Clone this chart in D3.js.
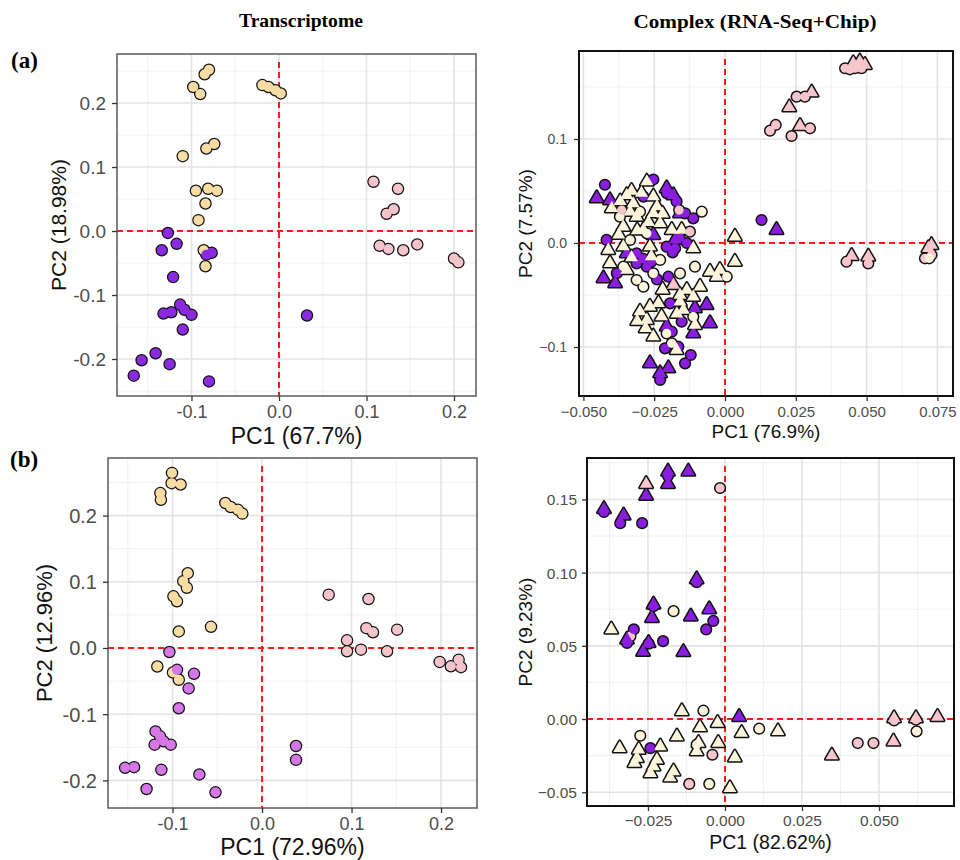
<!DOCTYPE html>
<html>
<head>
<meta charset="utf-8">
<script src="https://cdn.jsdelivr.net/npm/d3@7"></script>
<style>
  body { margin: 0; background: #fff; }
  svg text { font-family: "Liberation Sans", Arial, sans-serif; }
  .serif { font-family: "Liberation Serif", "Times New Roman", serif; font-weight: bold; }
</style>
</head>
<body>
<svg id="fig" width="960" height="860"></svg>
<script>
// ---- data ----
// (a) Transcriptome
var aL_yellow = [[-0.080,0.252],[-0.085,0.245],[-0.098,0.225],[-0.090,0.214],[-0.019,0.228],[-0.012,0.225],
  [-0.004,0.220],[0.002,0.215],[-0.110,0.117],[-0.083,0.129],[-0.074,0.136],[-0.095,0.063],[-0.081,0.066],
  [-0.071,0.063],[-0.084,0.043],[-0.092,0.017],[-0.086,-0.030],[-0.084,-0.055]];
var aL_pink = [[0.108,0.077],[0.136,0.066],[0.123,0.027],[0.131,0.034],[0.115,-0.023],[0.125,-0.028],
  [0.142,-0.030],[0.158,-0.021],[0.200,-0.043],[0.205,-0.049]];
var aL_purple = [[-0.127,-0.003],[-0.117,-0.020],[-0.134,-0.030],[-0.083,-0.037],[-0.077,-0.034],[-0.121,-0.072],
  [-0.132,-0.129],[-0.123,-0.127],[-0.113,-0.115],[-0.108,-0.123],[-0.100,-0.131],[-0.110,-0.154],[0.032,-0.132],
  [-0.141,-0.191],[-0.157,-0.202],[-0.125,-0.208],[-0.166,-0.226],[-0.080,-0.235]];

// (a) Complex
var aR_purpleCircle = [[-0.0424,0.056],[-0.0253,0.061],[-0.0206,0.048],[-0.0171,0.040],[-0.0141,0.0285],
  [-0.0112,0.0237],[-0.0382,-0.029],[-0.0312,-0.0196],[-0.0276,-0.0228],[-0.0206,-0.0035],[-0.0176,-0.005],
  [-0.020,-0.0324],[0.0129,0.0221],[-0.0194,-0.058],[-0.0153,-0.0756],[-0.0188,-0.0853],[-0.0212,-0.1013],
  [-0.0165,-0.0997],[-0.0121,-0.1077],[-0.0141,-0.1157],[-0.0229,-0.1317],[-0.0288,0.0446],[-0.0312,-0.010],
  [-0.0418,0.003],[-0.029,-0.015],[-0.026,-0.018],[-0.0185,-0.009],[-0.0135,0.0],[-0.024,-0.035],[-0.016,0.005]];
var aR_purpleTriangle = [[-0.0453,0.043],[-0.0406,0.041],[-0.0206,0.0526],[-0.0182,0.046],[-0.0159,0.0285],
  [-0.0429,-0.034],[-0.0388,-0.0388],[-0.0106,-0.0628],[-0.0065,-0.0596],[-0.0053,-0.0772],[-0.0112,-0.0869],
  [-0.0265,-0.1157],[-0.020,-0.1205],[-0.0229,-0.1253],[0.0182,0.0125],[-0.0206,-0.0804],[-0.0347,-0.010],
  [-0.0253,0.0077],[-0.0176,0.003]];
var aR_creamTriangle = [[-0.0347,0.046],[-0.0276,0.059],[-0.040,0.0333],[-0.0324,0.038],[-0.0253,0.0446],
  [-0.0312,0.0253],[-0.0253,0.0285],[-0.0359,0.0157],[-0.0288,0.0125],[-0.0229,0.0189],[-0.0188,0.0125],
  [-0.0153,0.0125],[-0.0412,-0.0067],[-0.0359,-0.0035],[-0.0265,-0.0035],[-0.0406,-0.0196],[-0.0347,-0.026],
  [-0.0112,-0.0051],[0.0035,0.0061],[0.0035,-0.018],[-0.0018,-0.026],[-0.0053,-0.0276],[-0.0029,-0.0324],
  [-0.0135,-0.0452],[-0.0159,-0.050],[-0.0112,-0.0516],[-0.0088,-0.042],[-0.030,-0.066],[-0.0265,-0.0612],
  [-0.0235,-0.058],[-0.0276,-0.074],[-0.0253,-0.090],[-0.0171,-0.1029],[-0.0106,-0.0788],[-0.0159,-0.0564],
  [-0.0224,-0.0708],[-0.0147,-0.0644],[-0.033,0.050],[-0.0295,0.048],[-0.031,0.012],[-0.024,0.035],
  [-0.0375,0.008],[-0.027,0.020],[-0.022,0.028],[-0.0335,0.030],[-0.037,0.040],[-0.026,-0.013],[-0.033,-0.014],
  [-0.022,-0.045],[-0.017,-0.068],[-0.031,-0.075],[-0.028,-0.082]];
var aR_creamCircle = [[-0.030,0.0301],[-0.0371,0.0253],[-0.0276,0.0093],[-0.0335,0.0029],[-0.0229,-0.0163],
  [-0.0359,-0.0228],[-0.0312,-0.0356],[-0.0288,-0.042],[-0.0253,-0.0292],[-0.0082,0.0301],[-0.0106,-0.0228],
  [-0.0159,-0.0292],[-0.0206,-0.0869],[-0.0188,-0.0965],[-0.0112,-0.0708],[0.0006,-0.0324]];
var aR_pinkCircle = [[-0.0162,0.0317],[-0.0124,0.0109],[-0.0365,0.0317],[0.0424,0.168],[0.0441,0.167],
  [0.0459,0.168],[0.0482,0.168],[0.0253,0.1407],[0.0282,0.1407],[0.0159,0.108],[0.0179,0.1135],[0.0235,0.1029],
  [0.030,0.1103],[0.0429,-0.018],[0.0506,-0.0196],[0.0706,-0.0147],[0.0729,-0.0115]];
var aR_pinkTriangle = [[0.0453,0.1728],[0.0476,0.1744],[0.0494,0.1712],[0.0306,0.1446],[0.0227,0.1304],
  [0.0265,0.1125],[0.0447,-0.0125],[0.0506,-0.0131],[0.0718,-0.0051],[0.0729,-0.002],[-0.0182,-0.0404]];
var aR_creamInPink = [[0.0721,-0.0147]];

// (b) Transcriptome
var bL_yellow = [[-0.1006,0.2645],[-0.101,0.249],[-0.091,0.247],[-0.1136,0.234],[-0.113,0.224],[-0.041,0.219],
  [-0.035,0.213],[-0.027,0.209],[-0.022,0.203],[-0.083,0.113],[-0.088,0.101],[-0.084,0.091],[-0.099,0.078],
  [-0.095,0.0705],[-0.093,0.025],[-0.057,0.032],[-0.117,-0.028],[-0.0995,-0.037],[-0.093,-0.048]];
var bL_pink = [[0.0745,0.0806],[0.119,0.074],[0.095,0.0116],[0.095,-0.005],[0.1106,-0.0025],[0.1166,0.030],
  [0.124,0.0237],[0.1397,-0.005],[0.151,0.0277],[0.1985,-0.021],[0.211,-0.0277],[0.2197,-0.0176],[0.2223,-0.029]];
var bL_orchid = [[-0.1035,-0.006],[-0.095,-0.033],[-0.076,-0.039],[-0.082,-0.061],[-0.093,-0.091],[-0.119,-0.126],
  [-0.114,-0.1335],[-0.120,-0.146],[-0.102,-0.146],[-0.110,-0.141],[-0.153,-0.181],[-0.143,-0.180],
  [-0.1125,-0.184],[-0.070,-0.191],[-0.129,-0.213],[-0.052,-0.218],[0.038,-0.148],[0.038,-0.169]];

// (b) Complex
var bR_purpleCircle = [[-0.0393,0.1415],[-0.0185,0.166],[-0.034,0.1338],[-0.0269,0.1338],[-0.0232,0.077],
  [-0.0296,0.0612],[-0.0201,0.0532],[-0.0061,0.0612],[-0.0038,0.067],[-0.0092,0.0935],[-0.0318,0.052],
  [-0.0242,-0.0199],[-0.0248,0.0515]];
var bR_purpleTriangle = [[-0.0393,0.1434],[-0.0329,0.139],[-0.0185,0.169],[-0.0185,0.1605],[-0.0119,0.169],
  [-0.0256,0.1525],[-0.0232,0.0783],[-0.0237,0.069],[-0.0248,0.052],[-0.0266,0.046],[-0.0111,0.070],
  [-0.0135,0.0457],[-0.0051,0.075],[-0.0092,0.0954],[-0.0318,0.0543],[0.0046,0.0014]];
var bR_creamCircle = [[-0.0167,0.0737],[-0.007,0.0057],[0.0111,-0.0066],[0.0622,-0.0084],[-0.0275,-0.0114],
  [-0.0051,-0.0443],[-0.0092,-0.0175]];
var bR_creamTriangle = [[-0.0369,0.0612],[-0.014,0.0053],[-0.0081,-0.0057],[-0.0024,-0.0027],[0.0054,-0.0096],
  [0.0172,-0.0084],[-0.0156,-0.0119],[-0.0086,-0.0164],[-0.0092,-0.022],[-0.0022,-0.0164],[0.0032,-0.0263],
  [-0.0342,-0.0199],[-0.028,-0.021],[-0.0286,-0.0267],[-0.0294,-0.030],[-0.021,-0.0187],[-0.0221,-0.0279],
  [-0.0232,-0.0324],[-0.0242,-0.037],[-0.0167,-0.0358],[-0.0178,-0.040],[0.0016,-0.0473]];
var bR_pinkCircle = [[-0.0016,0.1578],[-0.0307,0.0566],[0.0431,-0.0164],[0.0482,-0.0164],[0.0549,-0.001],
  [0.062,-0.0005],[-0.0041,-0.0244],[-0.0116,-0.0443]];
var bR_pinkTriangle = [[-0.0256,0.1605],[0.0347,-0.025],[0.0547,-0.0153],[0.0549,0.0005],[0.062,0.0005],
  [0.069,0.0014]];

// tick values
var aL_xTicks = [-0.1, 0, 0.1, 0.2], aL_yTicks = [-0.2, -0.1, 0, 0.1, 0.2];
var aR_xTicks = [-0.05, -0.025, 0, 0.025, 0.05, 0.075], aR_yTicks = [-0.1, 0, 0.1];
var bL_xTicks = [-0.1, 0, 0.1, 0.2], bL_yTicks = [-0.2, -0.1, 0, 0.1, 0.2];
var bR_xTicks = [-0.025, 0, 0.025, 0.05], bR_yTicks = [-0.05, 0, 0.05, 0.1, 0.15];

var C = {
  yellow: "#f9dba4", pink: "#f4c3cb", purple: "#8a2be2",
  orchid: "#d677e8", vio: "#8a1de0", rose: "#f8c5cd", cream: "#fcf5dc"
};

var svg = d3.select("#fig");

function hy(f) { return function(d) { return d3.format(f)(d).replace("\u2212", "-"); }; }

// minor grid at midpoints between major ticks, plus one beyond each side
function minors(t) {
  var step = t[1] - t[0], out = [];
  out.push(t[0] - step / 2);
  for (var i = 0; i < t.length; i++) out.push(t[i] + step / 2);
  return out;
}

function drawPanel(o) {
  var x = d3.scaleLinear().domain(o.xd).range([o.x0, o.x1]);
  var y = d3.scaleLinear().domain(o.yd).range([o.y1, o.y0]);
  var g = svg.append("g");
  var clip = "clip" + o.id;
  g.append("clipPath").attr("id", clip).append("rect")
    .attr("x", o.x0).attr("y", o.y0).attr("width", o.x1 - o.x0).attr("height", o.y1 - o.y0);

  var grid = g.append("g").attr("clip-path", "url(#" + clip + ")");
  minors(o.xt).forEach(function(v) {
    grid.append("line").attr("x1", x(v)).attr("x2", x(v)).attr("y1", o.y0).attr("y2", o.y1)
      .attr("stroke", "#f0f0f0").attr("stroke-width", 1);
  });
  minors(o.yt).forEach(function(v) {
    grid.append("line").attr("y1", y(v)).attr("y2", y(v)).attr("x1", o.x0).attr("x2", o.x1)
      .attr("stroke", "#f0f0f0").attr("stroke-width", 1);
  });
  o.xt.forEach(function(v) {
    grid.append("line").attr("x1", x(v)).attr("x2", x(v)).attr("y1", o.y0).attr("y2", o.y1)
      .attr("stroke", "#e3e3e3").attr("stroke-width", 1.6);
  });
  o.yt.forEach(function(v) {
    grid.append("line").attr("y1", y(v)).attr("y2", y(v)).attr("x1", o.x0).attr("x2", o.x1)
      .attr("stroke", "#e3e3e3").attr("stroke-width", 1.6);
  });

  // reference lines at zero
  grid.append("line").attr("x1", x(0)).attr("x2", x(0)).attr("y1", o.y0 + 8).attr("y2", o.y1)
    .attr("stroke", "#ff1a1a").attr("stroke-width", 2).attr("stroke-dasharray", "6,4");
  grid.append("line").attr("y1", y(0)).attr("y2", y(0)).attr("x1", o.x0).attr("x2", o.x1)
    .attr("stroke", "#ff1a1a").attr("stroke-width", 2).attr("stroke-dasharray", "6,4");

  // points: black outline layer first, then fills, so touching points merge
  var pts = g.append("g").attr("clip-path", "url(#" + clip + ")");
  function sym(s) {
    return d3.symbol().type(s.shape === "tri" ? d3.symbolTriangle : d3.symbolCircle)
      .size(s.shape === "tri" ? o.triSize : o.circSize)();
  }
  o.series.forEach(function(s) {
    pts.selectAll(null).data(s.data).enter().append("path")
      .attr("d", sym(s))
      .attr("transform", function(d) { return "translate(" + x(d[0]) + "," + y(d[1]) + ")"; })
      .attr("fill", "#111").attr("stroke", "#111").attr("stroke-width", o.sw)
      .attr("stroke-linejoin", "round");
  });
  o.series.forEach(function(s) {
    pts.selectAll(null).data(s.data).enter().append("path")
      .attr("d", sym(s))
      .attr("transform", function(d) { return "translate(" + x(d[0]) + "," + y(d[1]) + ")"; })
      .attr("fill", s.color);
  });

  g.append("rect").attr("x", o.x0).attr("y", o.y0).attr("width", o.x1 - o.x0).attr("height", o.y1 - o.y0)
    .attr("fill", "none").attr("stroke", o.border).attr("stroke-width", o.bw);

  // axes
  var xa = g.append("g").attr("transform", "translate(0," + o.y1 + ")")
    .call(d3.axisBottom(x).tickValues(o.xt).tickFormat(o.xf).tickSize(5));
  var ya = g.append("g").attr("transform", "translate(" + o.x0 + ",0)")
    .call(d3.axisLeft(y).tickValues(o.yt).tickFormat(o.yf).tickSize(5));
  [xa, ya].forEach(function(a) {
    a.select(".domain").remove();
    a.selectAll("line").attr("stroke", "#333").attr("stroke-width", 1.3);
    a.selectAll("text").attr("fill", "#4d4d4d").style("font-family", "'Liberation Sans', Arial, sans-serif");
  });
  xa.selectAll("text").attr("font-size", o.xfs).attr("dy", null).attr("y", o.xtb);
  ya.selectAll("text").attr("font-size", o.yfs).attr("x", -o.ytr).attr("dy", "0.35em");

  g.append("text").attr("x", (o.x0 + o.x1) / 2).attr("y", o.xlb).attr("text-anchor", "middle")
    .attr("font-size", o.xls).attr("fill", "#111").text(o.xl);
  g.append("text").attr("transform", "translate(" + o.ylb + "," + (o.y0 + o.y1) / 2 + ") rotate(-90)")
    .attr("text-anchor", "middle").attr("font-size", o.yls).attr("fill", "#111").text(o.yl);
}

drawPanel({
  id: "aL", x0: 117, x1: 476, y0: 54, y1: 396, xd: [-0.18514, 0.22514], yd: [-0.2578, 0.2766],
  xt: aL_xTicks, yt: aL_yTicks, xf: hy(".1f"), yf: hy(".1f"),
  xfs: 18, yfs: 19, xtb: 22, ytr: 11, xl: "PC1 (67.7%)", yl: "PC2 (18.98%)",
  xls: 23, yls: 21, xlb: 444, ylb: 66, border: "#5a5a5a", bw: 1.5,
  circSize: Math.PI * 5 * 5, triSize: 70, sw: 2.5,
  series: [{data: aL_yellow, shape: "c", color: C.yellow}, {data: aL_pink, shape: "c", color: C.pink},
           {data: aL_purple, shape: "c", color: C.purple}]
});

drawPanel({
  id: "aR", x0: 579, x1: 953, y0: 51, y1: 396, xd: [-0.05155, 0.0805], yd: [-0.1471, 0.1846],
  xt: aR_xTicks, yt: aR_yTicks, xf: d3.format(".3f"), yf: d3.format(".1f"),
  xfs: 15, yfs: 14, xtb: 21, ytr: 12, xl: "PC1 (76.9%)", yl: "PC2 (7.57%)",
  xls: 19, yls: 19, xlb: 438, ylb: 532, border: "#111", bw: 2,
  circSize: Math.PI * 4.6 * 4.6, triSize: 72, sw: 3,
  series: [{data: aR_purpleCircle, shape: "c", color: C.vio}, {data: aR_purpleTriangle, shape: "tri", color: C.vio},
           {data: aR_creamCircle, shape: "c", color: C.cream}, {data: aR_creamTriangle, shape: "tri", color: C.cream},
           {data: aR_pinkCircle, shape: "c", color: C.rose}, {data: aR_pinkTriangle, shape: "tri", color: C.rose},
           {data: aR_creamInPink, shape: "c", color: C.cream}]
});

drawPanel({
  id: "bL", x0: 108, x1: 477, y0: 458, y1: 808, xd: [-0.1721, 0.2402], yd: [-0.2417, 0.287],
  xt: bL_xTicks, yt: bL_yTicks, xf: hy(".1f"), yf: hy(".1f"),
  xfs: 18, yfs: 20, xtb: 22, ytr: 11, xl: "PC1 (72.96%)", yl: "PC2 (12.96%)",
  xls: 23, yls: 22, xlb: 855, ylb: 52, border: "#5a5a5a", bw: 1.5,
  circSize: Math.PI * 5 * 5, triSize: 70, sw: 2.5,
  series: [{data: bL_yellow, shape: "c", color: C.yellow}, {data: bL_pink, shape: "c", color: C.pink},
           {data: bL_orchid, shape: "c", color: C.orchid}]
});

drawPanel({
  id: "bR", x0: 587, x1: 954, y0: 458, y1: 806, xd: [-0.0448, 0.07435], yd: [-0.0594, 0.1783],
  xt: bR_xTicks, yt: bR_yTicks, xf: d3.format(".3f"), yf: d3.format(".2f"),
  xfs: 15.5, yfs: 15.5, xtb: 20, ytr: 10, xl: "PC1 (82.62%)", yl: "PC2 (9.23%)",
  xls: 19.5, yls: 19, xlb: 849, ylb: 532, border: "#111", bw: 2,
  circSize: Math.PI * 4.6 * 4.6, triSize: 72, sw: 3,
  series: [{data: bR_creamCircle, shape: "c", color: C.cream}, {data: bR_creamTriangle, shape: "tri", color: C.cream},
           {data: bR_pinkCircle, shape: "c", color: C.rose}, {data: bR_purpleCircle, shape: "c", color: C.vio},
           {data: bR_purpleTriangle, shape: "tri", color: C.vio}, {data: bR_pinkTriangle, shape: "tri", color: C.rose}]
});

// titles and panel letters
svg.append("text").attr("class", "serif").attr("x", 301).attr("y", 27).attr("text-anchor", "middle")
  .attr("font-size", 19).attr("textLength", 124).attr("lengthAdjust", "spacingAndGlyphs").text("Transcriptome");
svg.append("text").attr("class", "serif").attr("x", 755).attr("y", 28).attr("text-anchor", "middle")
  .attr("font-size", 19).attr("textLength", 243).attr("lengthAdjust", "spacingAndGlyphs").text("Complex (RNA-Seq+Chip)");
svg.append("text").attr("class", "serif").attr("x", 11).attr("y", 68).attr("font-size", 23).text("(a)");
svg.append("text").attr("class", "serif").attr("x", 10).attr("y", 467).attr("font-size", 23).text("(b)");
</script>
</body>
</html>
